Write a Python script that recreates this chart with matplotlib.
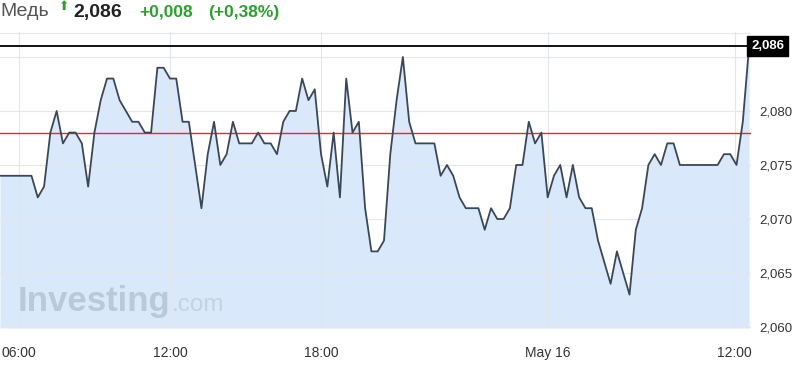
import matplotlib
matplotlib.use("Agg")
import matplotlib.pyplot as plt
from matplotlib.transforms import blended_transform_factory

# ---- data (15-min closes) ----
prices = [
    2.074, 2.074, 2.074, 2.074, 2.074, 2.074, 2.072, 2.073, 2.078, 2.080,
    2.077, 2.078, 2.078, 2.077, 2.073, 2.078, 2.081, 2.083, 2.083, 2.081,
    2.080, 2.079, 2.079, 2.078, 2.078, 2.084, 2.084, 2.083, 2.083, 2.079,
    2.079, 2.075, 2.071, 2.076, 2.079, 2.075, 2.076, 2.079, 2.077, 2.077,
    2.077, 2.078, 2.077, 2.077, 2.076, 2.079, 2.080, 2.080, 2.083, 2.081,
    2.082, 2.076, 2.073, 2.078, 2.072, 2.083, 2.078, 2.079, 2.071, 2.067,
    2.067, 2.068, 2.076, 2.081, 2.085, 2.079, 2.077, 2.077, 2.077, 2.077,
    2.074, 2.075, 2.074, 2.072, 2.071, 2.071, 2.071, 2.069, 2.071, 2.070,
    2.070, 2.071, 2.075, 2.075, 2.079, 2.077, 2.078, 2.072, 2.074, 2.075,
    2.072, 2.075, 2.072, 2.071, 2.071, 2.068, 2.066, 2.064, 2.067, 2.065,
    2.063, 2.069, 2.071, 2.075, 2.076, 2.075, 2.077, 2.077, 2.075, 2.075,
    2.075, 2.075, 2.075, 2.075, 2.075, 2.076, 2.076, 2.075, 2.079, 2.086,
]
prev_close = 2.078
last_price = 2.086
x_tick_pos = [3.0, 27.0, 51.0, 87.0, 116.7]
x_tick_labels = ["06:00", "12:00", "18:00", "May 16", "12:00"]
y_ticks = [2.060, 2.065, 2.070, 2.075, 2.080]
y_tick_labels = ["2,060", "2,065", "2,070", "2,075", "2,080"]
title_name = "Медь"
title_price = "2,086"
title_change = "+0,008"
title_pct = "(+0,38%)"

plt.rcParams['font.family'] = ['Liberation Sans', 'DejaVu Sans']

W, H = 800, 366
fig = plt.figure(figsize=(W / 100, H / 100), dpi=100)
fig.patch.set_facecolor("white")
ax = fig.add_axes([0, 1 - 328 / H, 751 / W, (328 - 32) / H])
ax.set_facecolor("white")

xs = list(range(len(prices)))
ymin, ymax = 2.05991, 2.08731
ax.fill_between(xs, prices, ymin, color="#d9e8fa", lw=0, zorder=1)
ax.plot(xs, prices, color="#3b4757", lw=1.3, zorder=4)

ax.set_xlim(0, len(prices) - 1 + 0.3)
ax.set_ylim(ymin, ymax)

# grid
for yv in y_ticks + [2.085, ymax - 0.00005]:
    ax.axhline(yv, color="#e4e7eb", lw=0.8, zorder=2)
for xv in x_tick_pos:
    ax.axvline(xv, color="#e2e6ea", lw=0.8, zorder=2)

ax.axhline(prev_close, color="#d0303f", lw=1.0, zorder=3)
ax.axhline(last_price, color="#111111", lw=1.4, zorder=5)

# axes styling
for s in ax.spines.values():
    s.set_visible(False)
ax.yaxis.tick_right()
ax.set_yticks(y_ticks)
ax.set_yticklabels(y_tick_labels)
ax.set_xticks(x_tick_pos)
ax.set_xticklabels(x_tick_labels)
ax.tick_params(axis="y", length=0, pad=6, labelsize=9.5, labelcolor="#333333")
ax.tick_params(axis="x", length=0, pad=13, labelsize=10, labelcolor="#333333")

# last-price label box
tr = blended_transform_factory(ax.transAxes, ax.transData)
ax.text(1.0, last_price, title_price, transform=tr, ha="left", va="center",
        fontsize=9.5, color="white", fontweight="bold", zorder=6, clip_on=False,
        bbox=dict(boxstyle="square,pad=0.28", fc="#000000", ec="#000000"))

# watermark
ax.text(18 / 751, 1 - (302 - 32) / (328 - 32), "Investing", transform=ax.transAxes,
        fontsize=25, fontweight="bold", color="#b4c4d4", alpha=0.85, va="center",
        ha="left", zorder=3)
ax.text(172 / 751, 1 - (305 - 32) / (328 - 32), ".com", transform=ax.transAxes,
        fontsize=17.5, color="#c3d0dd", alpha=0.9, va="center", ha="left", zorder=3)

# header
def fy(py):
    return 1 - py / H

fig.text(0 / W, fy(12), title_name, fontsize=14, color="#555555", va="center", ha="left")
fig.text(59 / W, fy(7), "⬆", fontsize=9, color="#2e9e2e", va="center", ha="left",
         family="DejaVu Sans")
fig.text(73 / W, fy(12), title_price, fontsize=14, color="#222222", fontweight="bold",
         va="center", ha="left")
fig.text(139 / W, fy(12), title_change, fontsize=12.5, color="#2e9e2e", fontweight="bold",
         va="center", ha="left")
fig.text(208 / W, fy(12), title_pct, fontsize=12.5, color="#2e9e2e", fontweight="bold",
         va="center", ha="left")

fig.savefig("out.png", dpi=100, facecolor="white")
